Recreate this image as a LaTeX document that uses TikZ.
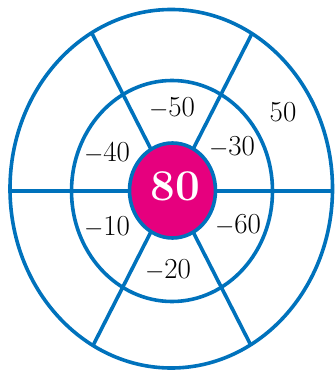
\documentclass[tikz,border=0pt]{standalone}
\usepackage{fontspec}
\definecolor{ringblue}{RGB}{0,114,188}
\definecolor{hubpink}{RGB}{230,0,126}
\begin{document}
\begin{tikzpicture}[x=1pt,y=-1pt,
  ring/.style={draw=ringblue,line width=3.6pt},
  lab/.style={font=\fontsize{29}{29}\selectfont,text=black,inner sep=0pt}]
\useasboundingbox (0,0) rectangle (335,374);
\coordinate (c) at (172,190.5);
% spokes clipped by outer ellipse
\begin{scope}
  \clip (171.25,188.75) ellipse [x radius=161.25, y radius=179.25];
  \draw[ring] (0,191) -- (335,191);
  \foreach \a in {63,117,243,297}
    \draw[ring] (c) -- ++({-\a}:400);
\end{scope}
\draw[ring] (171.25,188.75) ellipse [x radius=161.25, y radius=179.25];
\draw[ring] (172,191) ellipse [x radius=100.5, y radius=110.5];
\draw[ring,fill=hubpink] (172.5,190.5) ellipse [x radius=43, y radius=47.5];
\node[inner sep=0pt,text=white,font=\fontsize{44}{44}\selectfont\bfseries] (hub) at (175.5,186) {80};
\node[lab] (n50) at (172,108) {$-$50};
\node[lab] (p50) at (283,112) {50};
\node[lab] (n40) at (107,153) {$-$40};
\node[lab] (n30) at (232,147) {$-$30};
\node[lab] (n10) at (107,227) {$-$10};
\node[lab] (n60) at (238,225) {$-$60};
\node[lab] (n20) at (168,270) {$-$20};
\end{tikzpicture}
\end{document}
